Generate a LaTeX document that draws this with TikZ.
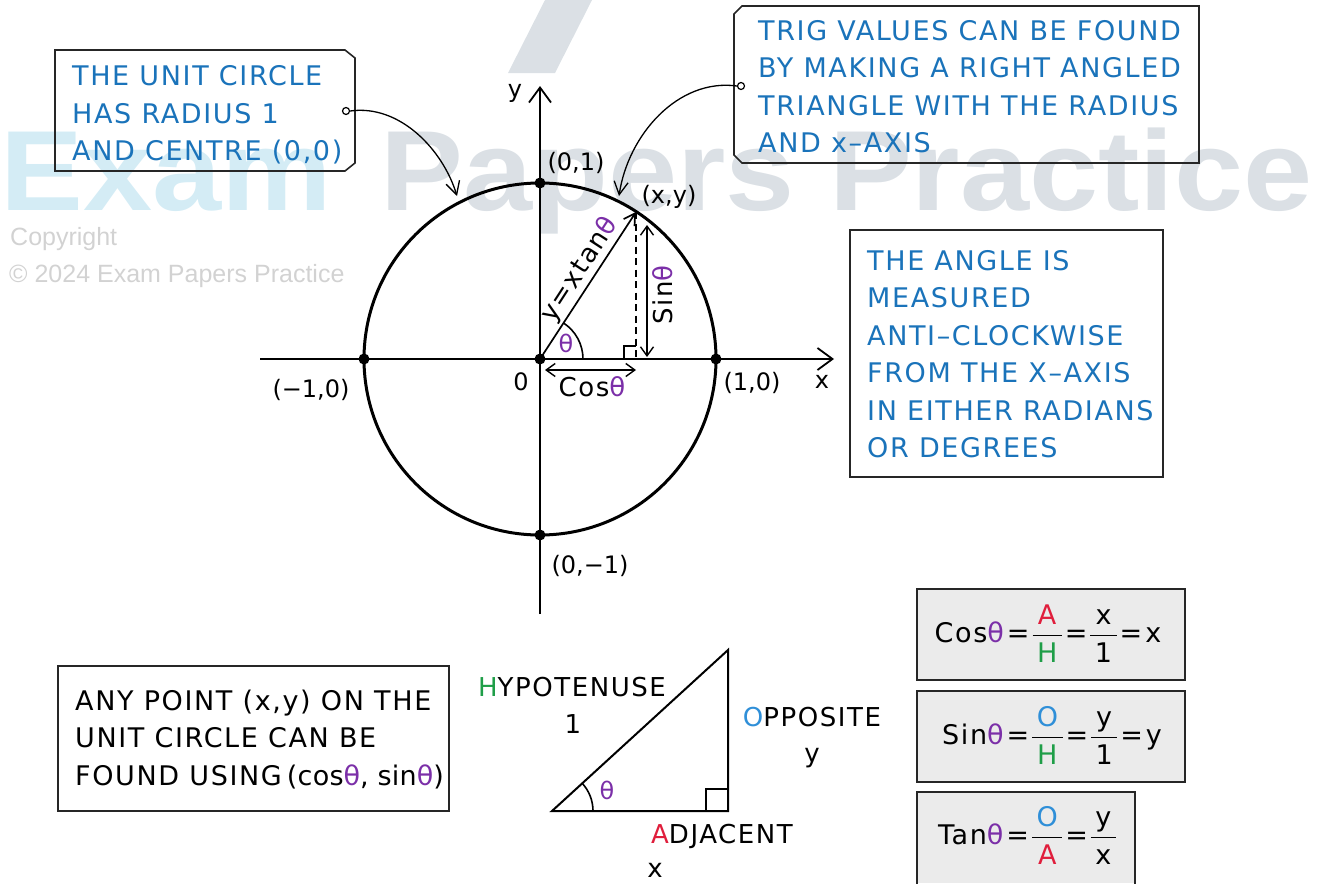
\documentclass[tikz,border=0pt]{standalone}
\usepackage{fontspec}
\setmainfont{DejaVu Sans}[LetterSpace=6]
\newfontfamily\wmfont{Liberation Sans}
\usetikzlibrary{arrows.meta}
\definecolor{tblue}{HTML}{1A73BA}
\definecolor{tpurp}{HTML}{7B2FA8}
\definecolor{tred}{HTML}{E01E3C}
\definecolor{tgreen}{HTML}{1F9E48}
\definecolor{oblue}{HTML}{2F8FD8}
\definecolor{boxgray}{HTML}{EBEBEB}
\definecolor{wmcyan}{HTML}{D4ECF5}
\definecolor{wmgray}{HTML}{DBE0E5}
\definecolor{cpgray}{HTML}{D2D2D2}
\newcommand{\tht}{\textcolor{tpurp}{θ}}
\newcommand{\fr}[2]{\ensuremath{\vcenter{\hbox{\setlength{\arrayrulewidth}{1.6pt}\begin{tabular}{@{\,}c@{\,}}#1\\[-1pt]\hline\rule{0pt}{26pt}#2\end{tabular}}}}}
\newcommand{\eq}{\hspace{3pt}=\hspace{3pt}}
\tikzset{
  x=1pt, y=-1pt,
  bigtxt/.style={font=\fontsize{27}{37.5}\selectfont, inner sep=0pt},
  bluetext/.style={bigtxt, text=tblue, align=left, anchor=west},
  blktext/.style={bigtxt, text=black, align=left, anchor=west},
  lbl/.style={font=\fontsize{24}{30}\selectfont\addfontfeature{LetterSpace=0}, inner sep=0pt},
  tlbl/.style={font=\fontsize{26}{30}\selectfont, inner sep=0pt},
  boxline/.style={draw=black!85, line width=1.6pt},
  ax/.style={line width=1.8pt, -{Straight Barb[length=15pt,width=22pt,line width=1.8pt]}},
  dot/.style={circle, fill=black, inner sep=0pt, minimum size=11pt},
  dblarrow/.style={line width=1.4pt, {Straight Barb[length=9pt,width=13pt,line width=1.4pt]}-{Straight Barb[length=9pt,width=13pt,line width=1.4pt]}},
  callarrow/.style={line width=1.3pt, -{Straight Barb[length=13pt,width=14pt,line width=1.3pt]}},
  pin/.style={circle, draw, line width=1.2pt, minimum size=7pt, inner sep=0pt, fill=white},
  fbox/.style={draw=black!85, fill=boxgray, line width=1.6pt},
}
\begin{document}
\begin{tikzpicture}
\useasboundingbox (0,0) rectangle (1319,883);
% watermark
\fill[wmgray] (545,0) -- (592,0) -- (555,73) -- (508,73) -- cycle;
\node[anchor=base west, inner sep=0pt, text=wmcyan, font=\wmfont\bfseries\fontsize{114}{114}\selectfont] (wm1) at (0,210) {\scalebox{1.09}[1]{Exam}};
\node[anchor=base west, inner sep=0pt, text=wmgray, font=\wmfont\bfseries\fontsize{114}{114}\selectfont] (wm2) at (380,210) {\scalebox{1.09}[1]{Papers Practice}};
\node[anchor=base west, inner sep=0pt, text=cpgray, font=\wmfont\fontsize{25}{25}\selectfont] (cp1) at (10,245) {Copyright};
\node[anchor=base west, inner sep=0pt, text=cpgray, font=\wmfont\fontsize{25}{25}\selectfont] (cp2) at (9,282) {© 2024 Exam Papers Practice};

% callout boxes
\draw[boxline] (55,50) -- (345,50) -- (355,58) -- (355,163) -- (345,171) -- (55,171) -- cycle;
\node[bluetext] (t1) at (72,115) {THE UNIT CIRCLE\\HAS RADIUS 1\\AND CENTRE (0,0)};
\draw[boxline] (742,6) -- (1199,6) -- (1199,163) -- (742,163) -- (734,155) -- (734,14) -- cycle;
\node[bluetext] (t2) at (758,86.5) {TRIG VALUES CAN BE FOUND\\BY MAKING A RIGHT ANGLED\\TRIANGLE WITH THE RADIUS\\AND x–AXIS};
\draw[boxline] (850,230) rectangle (1163,477);
\node[bluetext] (t3) at (867,354) {THE ANGLE IS\\MEASURED\\ANTI–CLOCKWISE\\FROM THE X–AXIS\\IN EITHER RADIANS\\OR DEGREES};
\draw[boxline] (58,666) rectangle (449,811);
\node[blktext] (t4) at (75,739.5) {ANY POINT (x,y) ON THE\\UNIT CIRCLE CAN BE\\FOUND USING\hspace{5pt}{\addfontfeature{LetterSpace=1}(cos\tht, sin\tht)}};

% unit circle
\coordinate (O) at (540,359);
\coordinate (xs) at (260,359);
\coordinate (xe) at (834,359);
\coordinate (ys) at (540,614);
\coordinate (ye) at (540,86);
\draw[ax] (xs) -- (xe);
\draw[ax] (ys) -- (ye);
\draw[line width=3pt] (O) circle[radius=176pt];
\node[dot] (top) at (540,183) {};
\node[dot] (left) at (364,359) {};
\node[dot] (right) at (716,359) {};
\node[dot] (bot) at (540,535) {};
\node[dot] (orig) at (540,359) {};
\coordinate (P) at (636,212);
\coordinate (F) at (636,359);
\draw[line width=1.7pt, -{Straight Barb[length=11pt,width=13pt,line width=1.7pt]}] (orig.center) -- (P);
\draw[line width=1.8pt, dash pattern=on 7pt off 4.5pt] (P) -- (F);
\draw[line width=1.4pt] ([xshift=-12pt]F) -- ([xshift=-12pt,yshift=13pt]F) -- ([yshift=13pt]F);
\coordinate (s1) at (647,225);
\coordinate (s2) at (647,357);
\draw[dblarrow] (s1) -- (s2);
\coordinate (c1) at (545,370);
\coordinate (c2) at (636,370);
\draw[dblarrow] (c1) -- (c2);
\draw[line width=1.6pt] (583,359) arc[start angle=0, end angle=57, radius=43pt];
\node[lbl] (th1) at (566,343) {\tht};
\node[tlbl, rotate=57] (tanl) at (580,270) {y=xtan\tht};
\node[tlbl, rotate=90] (sinl) at (663,295) {Sin\tht};
\node[tlbl] (cosl) at (592,387) {Cos\tht};
\node[lbl] (l01) at (576,163) {(0,1)};
\node[lbl] (lxy) at (669,197) {(x,y)};
\node[lbl] (lm10) at (311,390) {(−1,0)};
\node[lbl] (l10) at (752,383) {(1,0)};
\node[lbl] (l0) at (521,382) {0};
\node[lbl] (lx) at (822,382) {x};
\node[lbl] (ly) at (515,93) {y};
\node[lbl] (l0m1) at (590,566) {(0,−1)};

% callout pins and arrows
\node[pin] (p1) at (346,111) {};
\coordinate (g1) at (457,196);
\draw[callarrow] (p1.east) .. controls (400,104) and (443,150) .. (g1);
\node[pin] (p2) at (741,86) {};
\coordinate (g2) at (619,196);
\draw[callarrow] (p2.west) .. controls (678,78) and (628,135) .. (g2);

% triangle
\coordinate (A) at (552,811);
\coordinate (B) at (728,811);
\coordinate (C) at (728,650);
\draw[line width=2pt, line join=miter] (A) -- (B) -- (C) -- cycle;
\draw[line width=1.6pt] (706,811) -- (706,789) -- (728,789);
\draw[line width=1.6pt] (593,811) arc[start angle=0, end angle=42.4, radius=41pt];
\node[lbl] (th2) at (607,790) {\tht};
\node[tlbl] (hyp) at (572,687) {\textcolor{tgreen}{H}YPOTENUSE};
\node[tlbl] (one) at (573,724) {1};
\node[tlbl] (opp) at (812,717) {\textcolor{oblue}{O}PPOSITE};
\node[tlbl] (oy) at (812,758) {y};
\node[tlbl] (adj) at (722,836) {\textcolor{tred}{A}DJACENT};
\node[tlbl] (ax) at (655,870) {x};

% formula boxes
\draw[fbox] (917,589) rectangle (1185,680);
\node[bigtxt] (f1) at (1048,636) {Cos\tht\eq\fr{\textcolor{tred}{A}}{\textcolor{tgreen}{H}}\eq\fr{x}{1}\eq x};
\draw[fbox] (917,691) rectangle (1185,782);
\node[bigtxt] (f2) at (1052,738) {Sin\tht\eq\fr{\textcolor{oblue}{O}}{\textcolor{tgreen}{H}}\eq\fr{y}{1}\eq y};
\fill[boxgray] (917,792) rectangle (1135,883);
\draw[line width=1.6pt, draw=black!85] (917,884) -- (917,792) -- (1135,792) -- (1135,884);
\node[bigtxt] (f3) at (1027,838) {Tan\tht\eq\fr{\textcolor{oblue}{O}}{\textcolor{tred}{A}}\eq\fr{y}{x}};
\end{tikzpicture}
\end{document}
